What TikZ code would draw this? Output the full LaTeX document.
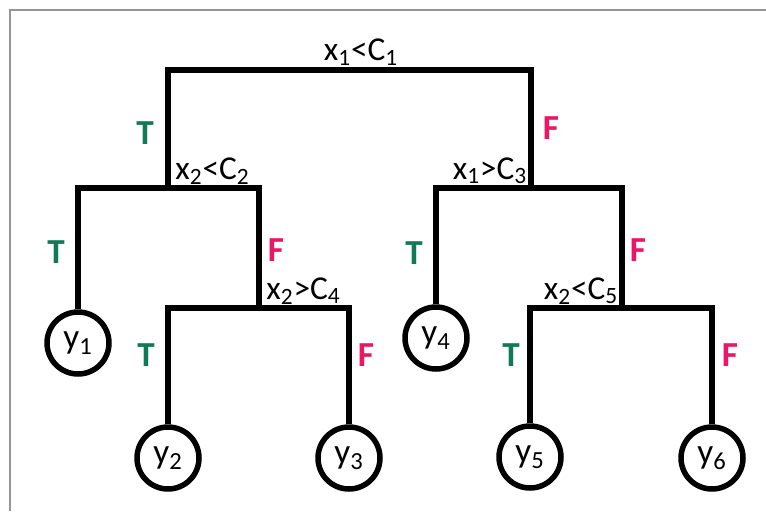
\documentclass[tikz,border=0pt]{standalone}
\usepackage{fontspec}
\setmainfont{Carlito}
\usepackage{xcolor}
\usetikzlibrary{positioning}
\definecolor{truegreen}{RGB}{16,122,88}
\definecolor{falsepink}{RGB}{236,22,102}
\definecolor{framegray}{RGB}{150,150,150}
\newcommand{\idx}[1]{\textsubscript{#1}}

\begin{document}
\begin{tikzpicture}[
    x=0.02cm, y=-0.02cm,
    branch/.style={line width=0.11cm, line join=miter},
    leaf/.style={draw, circle, line width=0.11cm, minimum size=1.24cm, inner sep=0pt, font=\fontsize{20}{24}\selectfont},
    test/.style={font=\fontsize{19}{22}\selectfont, inner sep=1pt},
    tlab/.style={font=\fontsize{20}{24}\selectfont\bfseries, text=truegreen},
    flab/.style={font=\fontsize{20}{24}\selectfont\bfseries, text=falsepink}
]
\useasboundingbox (0,0) rectangle (766,511);
\draw[framegray, line width=0.04cm] (10,511) -- (10,9.5) -- (766,9.5);

% split points
\coordinate (root) at (349.5,70);
\coordinate (n2) at (168,188);
\coordinate (n3) at (531,188);
\coordinate (n4) at (259,308);
\coordinate (n5) at (622,308);

% leaves
\node[leaf] (y1) at (78,343) {y\idx{1}};
\node[leaf] (y2) at (168,458) {y\idx{2}};
\node[leaf] (y3) at (349,458) {y\idx{3}};
\node[leaf] (y4) at (436,338) {y\idx{4}};
\node[leaf] (y5) at (530,457) {y\idx{5}};
\node[leaf] (y6) at (712,458) {y\idx{6}};

% branches
\draw[branch] (n2) |- (root) -| (n3);
\draw[branch] (y1) |- (n2) -| (n4);
\draw[branch] (y2) |- (n4) -| (y3);
\draw[branch] (y4) |- (n3) -| (n5);
\draw[branch] (y5) |- (n5) -| (y6);

% tests
\node[test] (t1) at (361,52) {x\idx{1}<C\idx{1}};
\node[test, above right=1pt and 3pt of n2] (t2) {x\idx{2}<C\idx{2}};
\node[test, above left=1pt and 1pt of n3] (t3) {x\idx{1}>C\idx{3}};
\node[test, above right=1pt and 3pt of n4] (t4) {x\idx{2}>C\idx{4}};
\node[test, above left=1pt and 1pt of n5] (t5) {x\idx{2}<C\idx{5}};

% outcomes
\node[tlab] (a1) at (145,133) {T};
\node[flab] (b1) at (551,128) {F};
\node[tlab] (a2) at (56,252) {T};
\node[flab] (b2) at (276,250) {F};
\node[tlab] (a3) at (414,253) {T};
\node[flab] (b3) at (638,250) {F};
\node[tlab] (a4) at (146,355) {T};
\node[flab] (b4) at (366,355) {F};
\node[tlab] (a5) at (511,355) {T};
\node[flab] (b5) at (730,355) {F};
\end{tikzpicture}
\end{document}
